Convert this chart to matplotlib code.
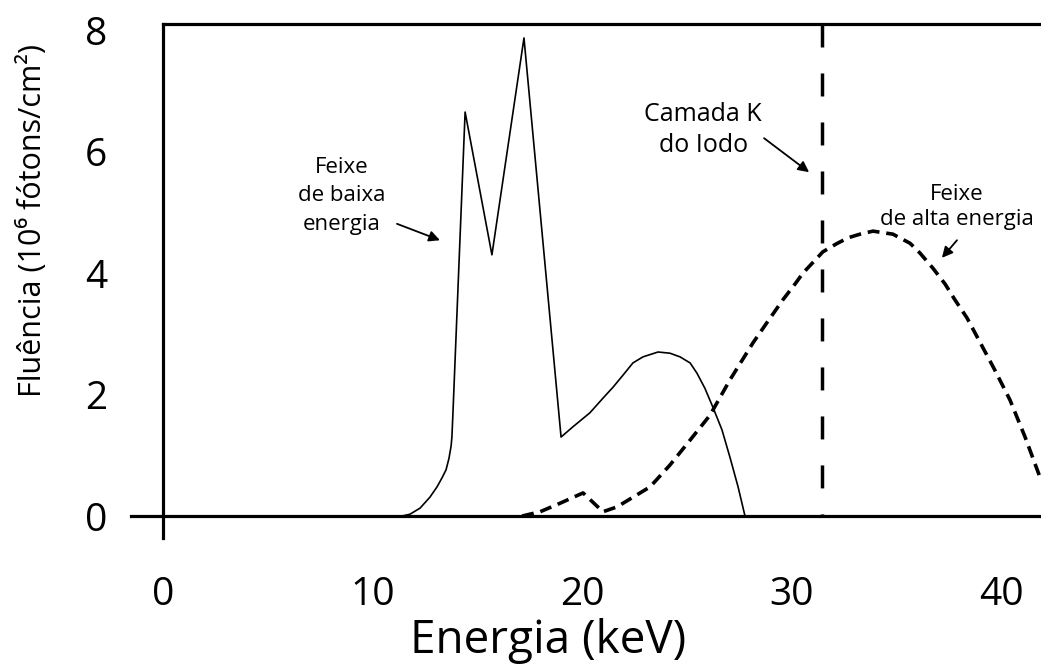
import matplotlib.pyplot as plt

plt.rcParams['font.family'] = ['Open Sans', 'DejaVu Sans']

# feixe de baixa energia (linha continua)
energia_baixa = [11.41, 11.79, 12.27, 12.74, 13.08, 13.32, 13.51, 13.65, 13.75, 13.79,
                 13.84, 14.42, 15.70, 17.23, 19.00, 19.57, 20.38, 21.00, 21.48, 21.96,
                 22.43, 22.91, 23.63, 24.20, 24.68, 25.16, 25.49, 25.87, 26.25, 26.68,
                 27.06, 27.45, 27.78]
fluencia_baixa = [0.0, 0.03, 0.13, 0.31, 0.48, 0.63, 0.76, 0.95, 1.15, 1.30,
                  1.70, 6.65, 4.30, 7.87, 1.30, 1.47, 1.70, 1.94, 2.12, 2.32,
                  2.52, 2.62, 2.70, 2.68, 2.62, 2.52, 2.35, 2.10, 1.79, 1.42,
                  0.97, 0.48, 0.0]

# feixe de alta energia (tracejado)
energia_alta = [17.14, 18.00, 18.95, 20.05, 21.00, 21.67, 23.25, 24.20, 25.16, 26.11,
                27.06, 28.16, 28.74, 29.59, 30.17, 30.55, 31.50, 32.14, 32.70, 33.27,
                33.89, 34.84, 35.66, 36.13, 36.75, 37.33, 37.80, 38.38, 39.00, 39.71,
                40.43, 41.15, 41.86]
fluencia_alta = [0.0, 0.07, 0.21, 0.38, 0.07, 0.15, 0.48, 0.84, 1.25, 1.66,
                 2.24, 2.85, 3.14, 3.56, 3.82, 4.00, 4.35, 4.48, 4.58, 4.64,
                 4.69, 4.64, 4.49, 4.33, 4.08, 3.82, 3.56, 3.26, 2.86, 2.40,
                 1.91, 1.30, 0.64]

borda_k_iodo = 31.46

xticks = [0, 10, 20, 30, 40]
yticks = [0, 2, 4, 6, 8]
xmin, xmax = 0, 41.91
ymin, ymax = -0.362, 8.10

fig = plt.figure(figsize=(10.41, 6.68), dpi=100)
ax = fig.add_axes([0.1566, 0.1946, 0.8434, 0.7695])

ax.plot(energia_baixa, fluencia_baixa, color='black', lw=1.2)
ax.plot(energia_alta, fluencia_alta, color='black', lw=2.6,
        linestyle=(0, (3.3, 1.9)))
ax.plot([borda_k_iodo, borda_k_iodo], [ymax, 0], color='black', lw=2.5,
        linestyle=(0, (6.62, 7.49)))

ax.axhline(0, xmin=-0.036, xmax=1, color='black', lw=2.3, clip_on=False)

ax.set_xlim(xmin, xmax)
ax.set_ylim(ymin, ymax)
for s in ['right', 'bottom']:
    ax.spines[s].set_visible(False)
for s in ['left', 'top']:
    ax.spines[s].set_linewidth(2.3)

ax.set_xticks(xticks)
ax.set_yticks(yticks)
ax.tick_params(axis='x', length=0, pad=27, labelsize=28)
ax.tick_params(axis='y', length=0, pad=40, labelsize=28)

ax.set_xlabel('Energia (keV)', fontsize=33, va='center')
ax.xaxis.set_label_coords(0.4385, -0.200)
ax.set_ylabel('Fluência (10⁶ fótons/cm²)', fontsize=22, va='center')
ax.yaxis.set_label_coords(-0.149, 0.617)

seta = dict(arrowstyle='-|>', color='black', lw=1.3, mutation_scale=16,
            shrinkA=0, shrinkB=0)

ax.text(8.54, 5.27, 'Feixe\nde baixa\nenergia', ha='center', va='center',
        fontsize=16, linespacing=1.45)
ax.annotate('', xy=(13.22, 4.54), xytext=(11.17, 4.81), arrowprops=seta)

ax.text(25.78, 6.35, 'Camada K\ndo Iodo', ha='center', va='center',
        fontsize=18, linespacing=1.3)
ax.annotate('', xy=(30.84, 5.66), xytext=(28.69, 6.22), arrowprops=seta)

ax.text(37.9, 5.09, 'Feixe\nde alta energia', ha='center', va='center',
        fontsize=16, linespacing=1.25)
ax.annotate('', xy=(37.18, 4.25), xytext=(37.90, 4.54), arrowprops=seta)

plt.savefig('out.png', dpi=100)
